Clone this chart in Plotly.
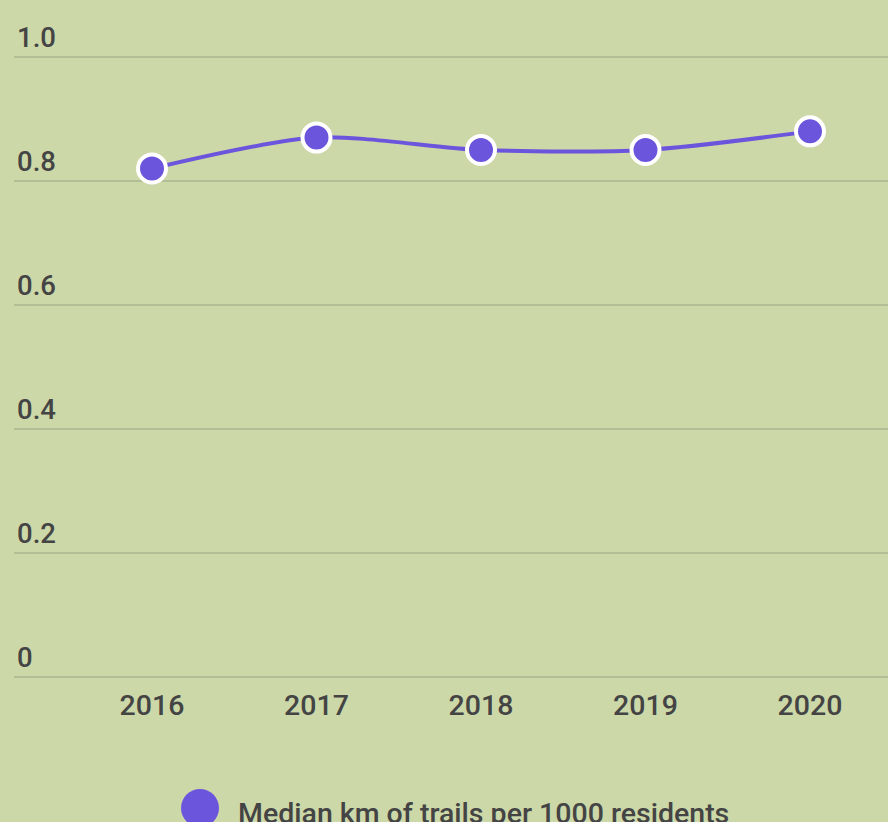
import plotly.graph_objects as go

years = ["2016", "2017", "2018", "2019", "2020"]
values = [0.82, 0.87, 0.85, 0.85, 0.88]
series_name = "Median km of trails per 1000 residents"
y_ticks = [0, 0.2, 0.4, 0.6, 0.8, 1.0]
y_tick_labels = ["0", "0.2", "0.4", "0.6", "0.8", "1.0"]

BG = "#CCD8A8"
PURPLE = "#6C55DD"
TEXT = "#444444"
GRID = "#B2BE96"
FONT = "Roboto"

W, H = 888, 822
L, R, T, B = 14, 0, 26, 139

fig = go.Figure()
fig.add_trace(go.Scatter(
    x=list(range(len(years))), y=values, mode="lines+markers",
    name=series_name,
    line=dict(color=PURPLE, width=4, shape="spline", smoothing=0.8),
    marker=dict(size=28, color=PURPLE, line=dict(color="white", width=4)),
    cliponaxis=False, showlegend=False,
))

unit = 164.5
x0 = -(152 - L) / unit
x1 = 4 + (W - 810) / unit
fig.update_xaxes(
    range=[x0, x1], tickvals=list(range(len(years))), ticktext=years,
    showgrid=False, zeroline=False, showline=False, ticks="",
    tickfont=dict(family=FONT, size=28.5, color=TEXT, weight=500), ticklabelstandoff=2,
)
fig.update_yaxes(
    range=[-0.01, 1.05], tickvals=y_ticks, ticktext=y_tick_labels,
    showgrid=True, gridcolor=GRID, gridwidth=2, zeroline=False, showline=False,
    ticks="", ticklabelposition="inside top", ticklabeloverflow="allow",
    tickfont=dict(family=FONT, size=27.5, color=TEXT, weight=500),
)

plot_h = H - T - B
plot_w = W - L - R
cx = (200 - L) / plot_w
cy = ((H - B) - 808) / plot_h
fig.add_shape(type="circle", xref="paper", yref="paper",
              xsizemode="pixel", ysizemode="pixel",
              xanchor=cx, yanchor=cy, x0=-19, x1=19, y0=-19, y1=19,
              fillcolor=PURPLE, line=dict(width=0))
fig.add_annotation(xref="paper", yref="paper", x=(236 - L) / plot_w, y=((H - B) - 813) / plot_h,
                   xanchor="left", yanchor="middle", showarrow=False,
                   text=series_name, font=dict(family=FONT, size=28.5, color=TEXT, weight=500))

fig.update_layout(
    width=W, height=H, margin=dict(l=L, r=R, t=T, b=B, pad=0),
    paper_bgcolor=BG, plot_bgcolor=BG, showlegend=False,
    font=dict(family=FONT, color=TEXT),
)
fig.write_html("out.html", config={"displayModeBar": False},
               post_script="document.body.style.margin='0';document.body.style.overflow='hidden';")
